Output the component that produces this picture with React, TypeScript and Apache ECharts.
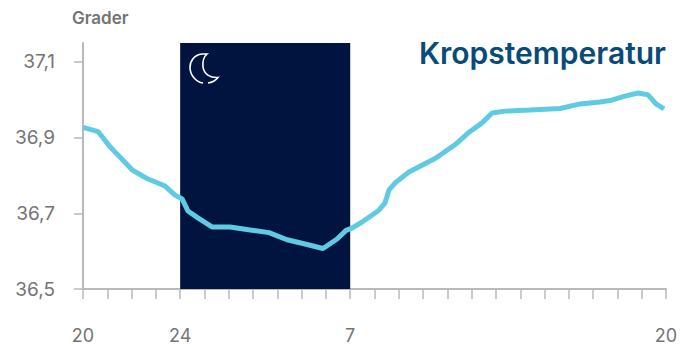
import React, { useEffect, useRef } from "react";
import * as echarts from "echarts";

// Hours since 20:00 and body temperature in degrees.
const hours = [0, 0.62, 1.15, 1.52, 2.02, 2.63, 3.38, 3.79, 4.08, 4.32, 4.73, 5.31, 6.05, 6.88, 7.66, 8.4, 9.14, 9.88, 10.46, 10.83, 11.07, 11.49, 12.14, 12.43, 12.6, 12.89, 13.42, 14.53, 15.31, 15.85, 16.43, 16.84, 17.37, 18.4, 19.64, 20.46, 21.28, 21.7, 22.27, 22.85, 23.26, 23.59, 23.92];
const temperature = [36.927, 36.916, 36.873, 36.849, 36.815, 36.792, 36.772, 36.748, 36.738, 36.706, 36.688, 36.664, 36.664, 36.656, 36.649, 36.63, 36.619, 36.607, 36.632, 36.655, 36.661, 36.677, 36.706, 36.727, 36.762, 36.783, 36.809, 36.846, 36.881, 36.912, 36.939, 36.965, 36.97, 36.973, 36.977, 36.989, 36.994, 36.998, 37.009, 37.018, 37.013, 36.989, 36.976];
const yTicks = [36.5, 36.7, 36.9, 37.1];
const xLabelHours = [0, 4, 11, 24];
const xLabelTexts = ["20", "24", "7", "20"];
const nightStart = 4;
const nightEnd = 11;

const FONT = "Inter, 'Noto Sans', sans-serif";
const GREY = "#747477";
const AXIS = "#b9b9bb";

// Crescent outline with the small gap near its lower tip.
const moonPath =
  "M13 1 C5 2 1 8 1 14.5 C1 22 7 29 14 30 M19 30 C23 29.5 27 27 29 24.5 C21 25 15 21 14 14 C13.5 9 14.5 4 18 1 L13 1";
echarts.graphic.registerShape("moon", echarts.graphic.extendPath(moonPath, {}) as any);

export default function App() {
  const ref = useRef<HTMLDivElement>(null);
  useEffect(() => {
    const chart = echarts.init(ref.current!, null, { renderer: "svg" });
    chart.setOption({
      animation: false,
      backgroundColor: "#fff",
      grid: { left: 83, right: 22, top: 43, bottom: 55 },
      title: {
        text: "Kropstemperatur",
        right: 22,
        top: 38,
        padding: 0,
        textStyle: { fontFamily: FONT, fontSize: 30, fontWeight: 600, color: "#074b78" },
      },
      xAxis: {
        type: "value",
        min: 0,
        max: 24,
        interval: 1,
        splitLine: { show: false },
        axisLine: { lineStyle: { color: AXIS, width: 2 } },
        axisTick: { length: 10, lineStyle: { color: AXIS, width: 1.5 } },
        axisLabel: {
          customValues: xLabelHours,
          formatter: (v: number) => xLabelTexts[xLabelHours.indexOf(v)] ?? "",
          margin: 37,
          color: GREY,
          fontFamily: FONT,
          fontSize: 18,
        },
      },
      yAxis: {
        type: "value",
        min: 36.5,
        max: 37.15,
        name: "Grader",
        nameLocation: "end",
        nameGap: 17,
        nameTextStyle: { color: GREY, fontFamily: FONT, fontSize: 17, fontWeight: 600, align: "left", padding: [0, 0, 0, -11] },
        splitLine: { show: false },
        axisLine: { show: true, onZero: false, lineStyle: { color: AXIS, width: 2 } },
        axisTick: { show: true, length: 9, customValues: yTicks, lineStyle: { color: AXIS, width: 1.5 } },
        axisLabel: {
          customValues: yTicks,
          formatter: (v: number) => v.toFixed(1).replace(".", ","),
          margin: 28,
          color: GREY,
          fontFamily: FONT,
          fontSize: 19,
        },
      },
      series: [
        {
          type: "line",
          data: hours.map((h, i) => [h, temperature[i]]),
          showSymbol: false,
          lineStyle: { color: "#5fcbe3", width: 5 },
          z: 5,
          markArea: {
            silent: true,
            itemStyle: { color: "#00143f" },
            label: { show: false },
            data: [[{ xAxis: nightStart, yAxis: 36.5 }, { xAxis: nightEnd, yAxis: 37.15 }]],
          },
        },
      ],
      graphic: [
        {
          type: "moon",
          x: 189,
          y: 53,
          z: 10,
          style: { fill: "none", stroke: "#ffffff", lineWidth: 1.6 },
        },
      ],
    });
    return () => chart.dispose();
  }, []);
  return <div ref={ref} style={{ position: "fixed", left: 0, top: 0, width: 688, height: 344 }} />;
}
